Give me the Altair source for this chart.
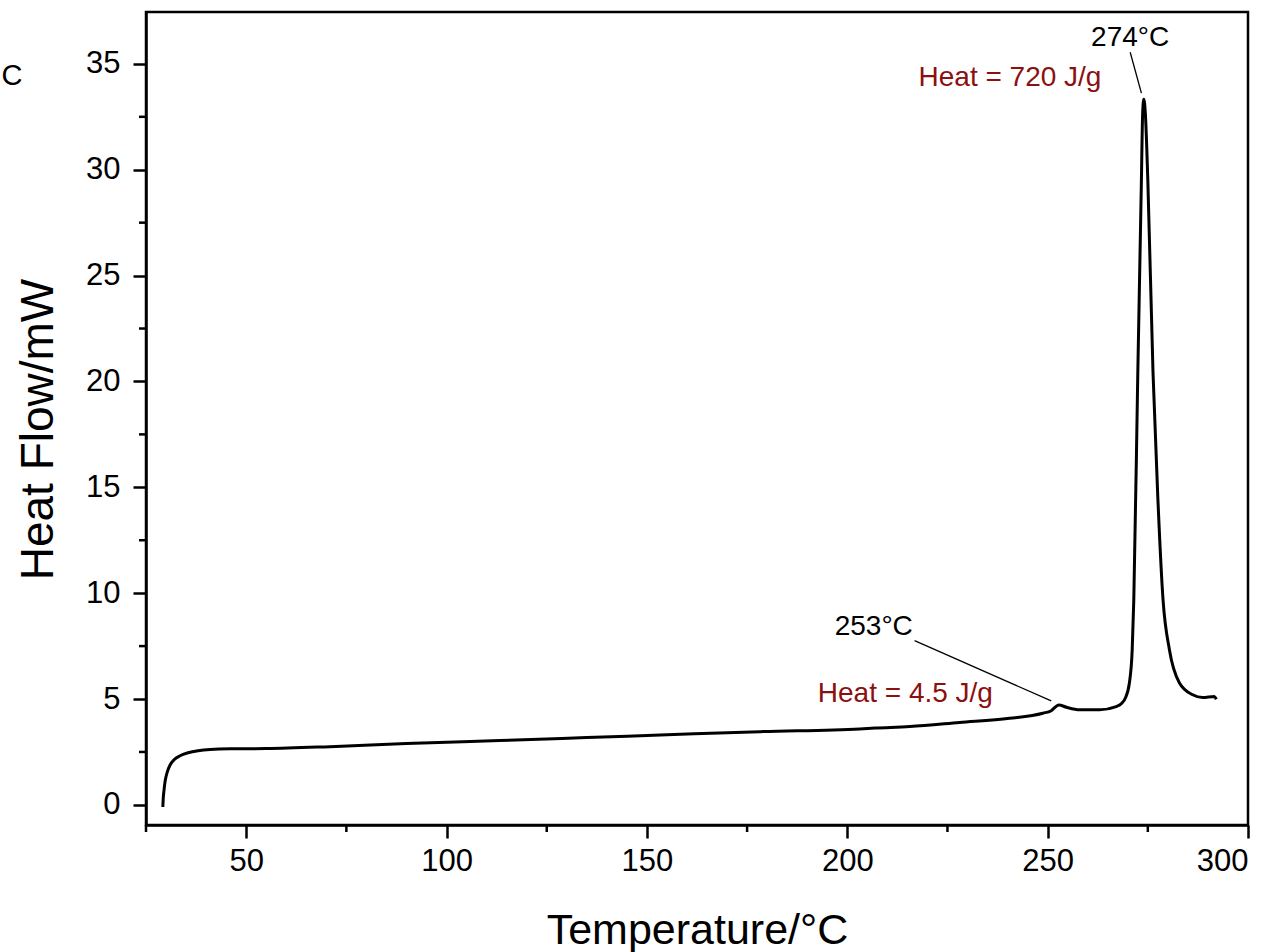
import altair as alt
import pandas as pd

# ---- data ----
temperature = [29.2, 29.3, 29.5, 29.8, 30.3, 31.0, 32.0, 33.5, 35.5, 38.0, 41.0, 46.0,
               55.0, 70.9, 90.0, 113.3, 135.0, 155.0, 178.2, 203.1, 207.0, 215.6,
               228.0, 240.5, 248.8, 250.9, 251.8, 252.8, 254.7, 258.0, 263.0, 267.1,
               268.5, 269.4, 270.4, 271.1, 271.5, 272.5, 273.4, 273.7, 274.0, 274.4,
               275.0, 276.3, 277.5, 278.8, 280.4, 282.9, 286.2, 288.7, 291.6, 292.1]
heat_flow = [-0.1, 0.3, 0.7, 1.15, 1.55, 1.88, 2.13, 2.32, 2.46, 2.56, 2.62, 2.65,
             2.66, 2.75, 2.9, 3.04, 3.18, 3.31, 3.46, 3.59, 3.63, 3.70,
             3.89, 4.09, 4.33, 4.45, 4.6, 4.72, 4.61, 4.49, 4.49, 4.64,
             4.8, 5.05, 5.76, 7.32, 9.68, 20.4, 29.5, 32.6, 33.33, 32.6,
             29.5, 20.4, 14.5, 9.68, 7.32, 5.76, 5.2, 5.07, 5.12, 4.99]

x_ticks = [50, 100, 150, 200, 250, 300]
x_minor = [25, 75, 125, 175, 225, 275]
y_ticks = [0, 5, 10, 15, 20, 25, 30, 35]
y_minor = [2.5, 7.5, 12.5, 17.5, 22.5, 27.5, 32.5]

ann_text = ["274°C", "Heat = 720 J/g", "253°C", "Heat = 4.5 J/g"]
ann_t = [270.6, 240.6, 206.6, 214.5]
ann_h = [35.85, 33.96, 8.03, 4.88]
ann_color = ["black", "#8B1010", "black", "#8B1010"]

lead_t1 = [270.6, 216.8]
lead_h1 = [35.55, 7.76]
lead_t2 = [273.4, 250.9]
lead_h2 = [33.62, 4.91]

panel_label = ["C"]

FONT = "Liberation Sans"
W, H = 1102, 813

curve = pd.DataFrame({"T": temperature, "H": heat_flow})
ann = pd.DataFrame({"T": ann_t, "H": ann_h, "text": ann_text, "color": ann_color})
lead = pd.DataFrame({"T": lead_t1, "H": lead_h1, "T2": lead_t2, "H2": lead_h2})
xm = pd.DataFrame({"T": x_minor})
ym = pd.DataFrame({"H": y_minor})
lab = pd.DataFrame({"text": panel_label})

xsc = alt.Scale(domain=[25, 300], nice=False, zero=False)
ysc = alt.Scale(domain=[-0.95, 37.45], nice=False, zero=False)

xax = alt.Axis(values=x_ticks, title="Temperature/°C", grid=False,
               tickSize=13, tickWidth=2.5, tickColor="black",
               domainColor="black", domainWidth=2.5,
               labelFont=FONT, labelFontSize=31, labelColor="black", labelPadding=8,
               titleFont=FONT, titleFontSize=43, titleFontWeight="normal", titleColor="black",
               titleX=551, titleY=118, titleAlign="center", titleBaseline="alphabetic")
yax = alt.Axis(values=y_ticks, title="Heat Flow/mW", grid=False,
               tickSize=13, tickWidth=2.5, tickColor="black",
               domainColor="black", domainWidth=2.5,
               labelFont=FONT, labelFontSize=31, labelColor="black", labelPadding=13,
               titleFont=FONT, titleFontSize=46, titleFontWeight="normal", titleColor="black",
               titleAngle=-90, titleX=-94, titleY=417, titleAlign="center",
               titleBaseline="alphabetic")


def X(field="T"):
    return alt.X(f"{field}:Q", scale=xsc, axis=xax)


def Y(field="H"):
    return alt.Y(f"{field}:Q", scale=ysc, axis=yax)


line = alt.Chart(curve).mark_line(color="black", strokeWidth=3, interpolate="monotone").encode(
    x=X(), y=Y(), order="T:Q")

leaders = alt.Chart(lead).mark_rule(color="black", strokeWidth=1.3).encode(
    x=X(), y=Y(), x2="T2:Q", y2="H2:Q")

texts = alt.Chart(ann).mark_text(font=FONT, fontSize=28, align="center",
                                 baseline="alphabetic").encode(
    x=X(), y=Y(), text="text:N", color=alt.Color("color:N", scale=None))

xminor = alt.Chart(xm).mark_rule(color="black", strokeWidth=2.5).encode(
    x=X(), y=alt.value(H), y2=alt.value(H + 7))

yminor = alt.Chart(ym).mark_rule(color="black", strokeWidth=2.5).encode(
    y=Y(), x=alt.value(0), x2=alt.value(-7))

label = alt.Chart(lab).mark_text(font=FONT, fontSize=29, align="center",
                                 baseline="alphabetic", color="black").encode(
    text="text:N", x=alt.value(-134), y=alt.value(73))

chart = alt.layer(line, leaders, texts, xminor, yminor, label).properties(
    width=W, height=H,
    autosize=alt.AutoSizeParams(type="none"),
    padding={"left": 146, "top": 12, "right": 1282 - 146 - W, "bottom": 952 - 12 - H},
    background="white",
).configure_view(stroke="black", strokeWidth=2.5)

chart.save("out.html", embed_options={"renderer": "svg", "actions": False})
